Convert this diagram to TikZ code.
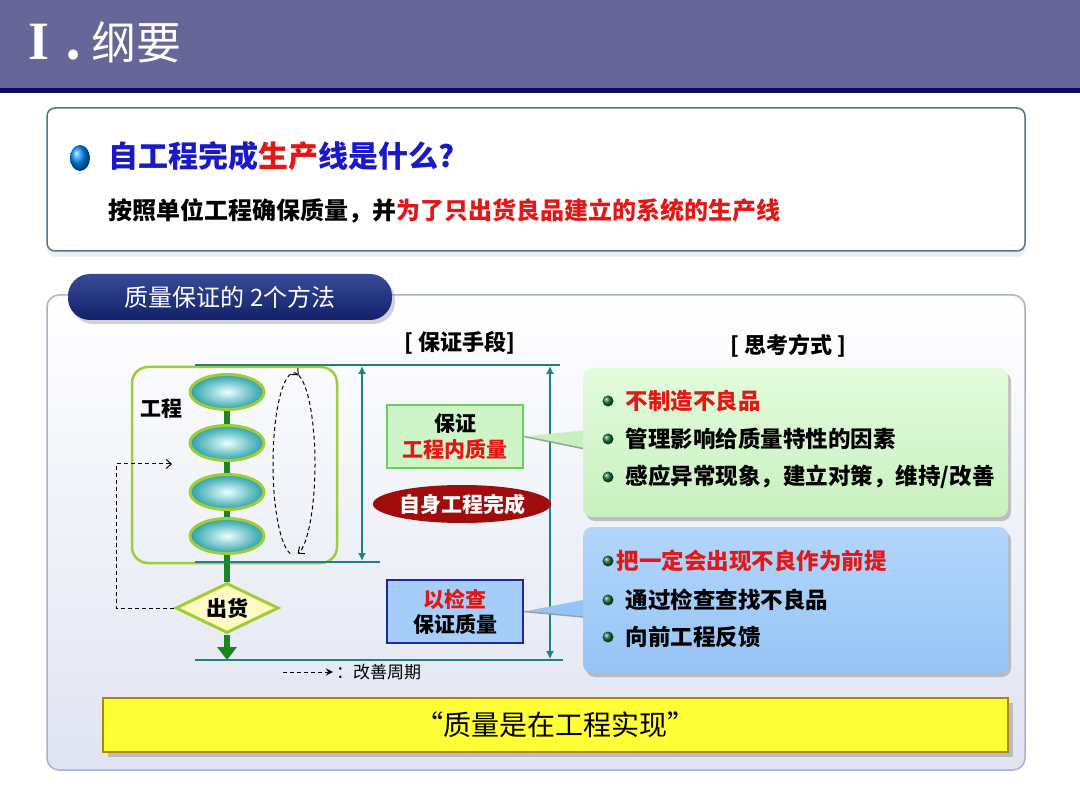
\documentclass[tikz,border=0pt]{standalone}
\usepackage{fontspec}
\setmainfont{Noto Sans CJK SC}
\newfontfamily\romanfont{Liberation Serif}
\usetikzlibrary{positioning,shapes.geometric,arrows.meta,shadows}

\definecolor{bandblue}{RGB}{102,102,153}
\definecolor{bandline}{RGB}{12,12,100}
\definecolor{qframe}{RGB}{85,115,135}
\definecolor{panelframe}{RGB}{165,175,215}
\definecolor{panelbottom}{RGB}{224,228,242}
\definecolor{tabnavy}{RGB}{18,32,105}
\definecolor{tabtop}{RGB}{55,75,150}
\definecolor{titleblue}{RGB}{25,25,200}
\definecolor{alertred}{RGB}{228,22,22}
\definecolor{limegreen}{RGB}{160,205,55}
\definecolor{stepteal}{RGB}{40,160,170}
\definecolor{stemgreen}{RGB}{25,135,30}
\definecolor{guideteal}{RGB}{30,130,125}
\definecolor{keepgreen}{RGB}{205,245,200}
\definecolor{keepedge}{RGB}{110,205,95}
\definecolor{inspblue}{RGB}{165,205,250}
\definecolor{inspedge}{RGB}{30,40,165}
\definecolor{darkred}{RGB}{160,12,12}
\definecolor{greentop}{RGB}{226,252,220}
\definecolor{greenbottom}{RGB}{200,240,190}
\definecolor{bluetop}{RGB}{178,214,252}
\definecolor{bluebottom}{RGB}{150,196,246}
\definecolor{dotgreen}{RGB}{25,110,55}
\definecolor{mottoyellow}{RGB}{255,255,55}
\definecolor{mottoedge}{RGB}{175,135,10}
\definecolor{shipyellow}{RGB}{255,248,175}

\tikzset{
  qbox/.style={draw=qframe, line width=1.5pt, rounded corners=8pt, fill=white,
    drop shadow={shadow xshift=0pt, shadow yshift=-6pt, opacity=0.12}},
  panel/.style={draw=panelframe, line width=1.5pt, rounded corners=12pt,
    top color=white, bottom color=panelbottom},
  tab/.style={rounded corners=22pt, top color=tabtop, bottom color=tabnavy, text=white,
    font=\fontsize{24}{27}\selectfont,
    drop shadow={shadow xshift=3pt, shadow yshift=-4pt, opacity=0.35}},
  head/.style={font=\fontsize{22}{25}\selectfont\bfseries},
  procbox/.style={draw=limegreen, line width=2.5pt, rounded corners=16pt},
  procstep/.style={ellipse, draw=limegreen, line width=3pt, minimum width=74pt,
    minimum height=35pt, inner color=cyan!8, outer color=stepteal},
  stem/.style={stemgreen, line width=6pt},
  guide/.style={guideteal, line width=2pt},
  span/.style={guideteal, line width=1.3pt, {Latex[length=8pt,width=8pt]}-{Latex[length=8pt,width=8pt]}},
  loopline/.style={black, line width=1pt, dash pattern=on 4pt off 3pt},
  keepbox/.style={draw=keepedge, fill=keepgreen, line width=1.8pt, minimum width=136pt,
    minimum height=63pt, align=center, font=\fontsize{21}{26}\selectfont\bfseries},
  inspbox/.style={draw=inspedge, fill=inspblue, line width=1.8pt, minimum width=136pt,
    minimum height=63pt, align=center, font=\fontsize{21}{25}\selectfont\bfseries},
  callout/.style={rounded corners=9pt, minimum width=425pt,
    drop shadow={shadow xshift=3pt, shadow yshift=-4pt, opacity=0.45}},
  bulletdot/.style={circle, inner sep=0pt, minimum size=11pt, ball color=dotgreen},
  bullettext/.style={inner sep=0pt, font=\fontsize{22.5}{26}\selectfont\bfseries},
}

\begin{document}
\begin{tikzpicture}[x=1pt, y=-1pt, >=Stealth]
  \useasboundingbox (0,0) rectangle (1080,810);
  \fill[white] (0,0) rectangle (1080,810);

  % title band
  \fill[bandblue] (0,0) rectangle (1080,88);
  \fill[bandline] (0,88) rectangle (1080,93);
  \node[anchor=west, text=white, inner sep=0pt] (title) at (28,42)
    {{\romanfont\bfseries\fontsize{54}{58}\selectfont I}\hspace{16pt}{\fontsize{46}{50}\selectfont\bfseries .}\hspace{10pt}{\fontsize{45}{50}\selectfont 纲要}};

  % question box
  \node[qbox, minimum width=978pt, minimum height=143pt] (qbox) at (536,179.5) {};
  \node[ellipse, inner sep=0pt, minimum width=20pt, minimum height=26pt,
    ball color=cyan!55!blue] (qdot) at (80,158) {};
  \node[anchor=west, inner sep=0pt, text=titleblue, font=\fontsize{30}{34}\selectfont\bfseries]
    (qtitle) at (108,156) {自工程完成\textcolor{alertred}{生产}线是什么?};
  \node[anchor=west, inner sep=0pt, font=\fontsize{24}{28}\selectfont\bfseries]
    (qline) at (108,211) {按照单位工程确保质量，并\textcolor{alertred}{为了只出货良品建立的系统的生产线}};

  % methods panel
  \node[panel, minimum width=978pt, minimum height=475pt] (panel) at (536,532.5) {};
  \node[tab, minimum width=324pt, minimum height=46pt] (tab) at (230,297) {质量保证的 2个方法};
  \node[head] (means) at (460,343) {[ 保证手段]};
  \node[head] (ways) at (788,346) {[ 思考方式 ]};

  % process flow
  \node[procbox, minimum width=205pt, minimum height=196pt] (proc) at (234.5,465) {};
  \node[font=\fontsize{21}{24}\selectfont\bfseries] (proclabel) at (161,409) {工程};
  \node[procstep] (s1) at (227,392) {};
  \node[procstep] (s2) at (227,443) {};
  \node[procstep] (s3) at (227,492) {};
  \node[procstep] (s4) at (227,536) {};
  \node[diamond, aspect=2, draw=limegreen, line width=3pt, inner color=shipyellow!40,
    outer color=shipyellow, minimum width=103pt, minimum height=50pt, inner sep=1pt,
    font=\fontsize{21}{24}\selectfont\bfseries] (ship) at (227,608) {出货};
  \coordinate (shipend) at (227,660);
  \draw[stem] (s1) -- (s2);
  \draw[stem] (s2) -- (s3);
  \draw[stem] (s3) -- (s4);
  \draw[stem] (s4) -- (ship);
  \draw[stem, -{Triangle[length=13pt,width=19pt]}] (ship) -- (shipend);

  % guide lines
  \coordinate (gTopL) at (195,365);
  \coordinate (gTopR) at (560,365);
  \coordinate (gMidL) at (195,562);
  \coordinate (gMidR) at (380,562);
  \coordinate (gBotL) at (195,660);
  \coordinate (gBotR) at (563,660);
  \draw[guide] (gTopL) -- (gTopR);
  \draw[guide] (gMidL) -- (gMidR);
  \draw[guide] (gBotL) -- (gBotR);
  \coordinate (spanA1) at (362,366);
  \coordinate (spanA2) at (362,561);
  \coordinate (spanB1) at (550,366);
  \coordinate (spanB2) at (550,659);
  \draw[span] (spanA1) -- (spanA2);
  \draw[span] (spanB1) -- (spanB2);

  % improvement cycles
  \coordinate (cyc) at (294,464);
  \draw[loopline, -{Straight Barb[length=5pt,width=9pt]}] ([shift={(100:21 and 91)}]cyc)
    arc[start angle=100, end angle=283, x radius=21, y radius=91];
  \draw[loopline, -{Straight Barb[length=5pt,width=9pt]}] ([shift={(283:21 and 91)}]cyc)
    arc[start angle=283, end angle=440, x radius=21, y radius=91];
  \coordinate (fbin) at (172,464);
  \draw[loopline, -{Straight Barb[length=5pt,width=9pt]}] (ship.west) -- ++(-58,0) |- (fbin);

  % means
  \node[keepbox] (keep) at (455,436.5) {保证\\\textcolor{alertred}{工程内质量}};
  \node[ellipse, fill=darkred, text=white, minimum width=157pt, minimum height=38pt, inner sep=0pt,
    font=\fontsize{21}{24}\selectfont\bfseries] (self) at (462,504) {自身工程完成};
  \node[inspbox] (insp) at (455,611.5) {\textcolor{alertred}{以检查}\\保证质量};

  % ways of thinking
  \node[callout, top color=greentop, bottom color=greenbottom, minimum height=149pt] (gcall) at (795.5,442.5) {};
  \fill[greenbottom] (keep.east) -- ([yshift=12pt]gcall.west) -- ([yshift=-6pt]gcall.west) -- cycle;
  \draw[gray!75, line width=1.5pt] (keep.east) -- ([yshift=-6pt]gcall.west);
  \node[callout, top color=bluetop, bottom color=bluebottom, minimum height=146pt] (bcall) at (795.5,600) {};
  \fill[bluebottom] (insp.east) -- ([yshift=0pt]bcall.west) -- ([yshift=-17pt]bcall.west) -- cycle;
  \draw[gray!75, line width=1.5pt] (insp.east) -- ([yshift=-17pt]bcall.west);

  \node[bulletdot] (g1dot) at (608,401) {};
  \node[bullettext, right=12pt of g1dot, text=alertred] (g1) {不制造不良品};
  \node[bulletdot] (g2dot) at (608,439) {};
  \node[bullettext, right=12pt of g2dot] (g2) {管理影响给质量特性的因素};
  \node[bulletdot] (g3dot) at (608,477) {};
  \node[bullettext, right=12pt of g3dot] (g3) {感应异常现象，建立对策，维持/改善};

  \node[bulletdot] (b1dot) at (608,561) {};
  \node[bullettext, right=3pt of b1dot, text=alertred] (b1) {把一定会出现不良作为前提};
  \node[bulletdot] (b2dot) at (608,600) {};
  \node[bullettext, right=12pt of b2dot] (b2) {通过检查查找不良品};
  \node[bulletdot] (b3dot) at (608,637) {};
  \node[bullettext, right=12pt of b3dot] (b3) {向前工程反馈};

  % legend
  \coordinate (lgA) at (283,672);
  \coordinate (lgB) at (333,672);
  \draw[loopline, -{Stealth[length=7pt,width=7pt]}] (lgA) -- (lgB);
  \node[right=3pt of lgB, inner sep=0pt, font=\fontsize{17}{20}\selectfont] (lgtext) {：改善周期};

  % motto
  \node[draw=mottoedge, fill=mottoyellow, line width=2.5pt, minimum width=905pt, minimum height=54pt,
    font=\fontsize{28}{32}\selectfont,
    drop shadow={shadow xshift=5pt, shadow yshift=-5pt, opacity=0.4}] (motto) at (555.5,725) {“质量是在工程实现”};
\end{tikzpicture}
\end{document}
